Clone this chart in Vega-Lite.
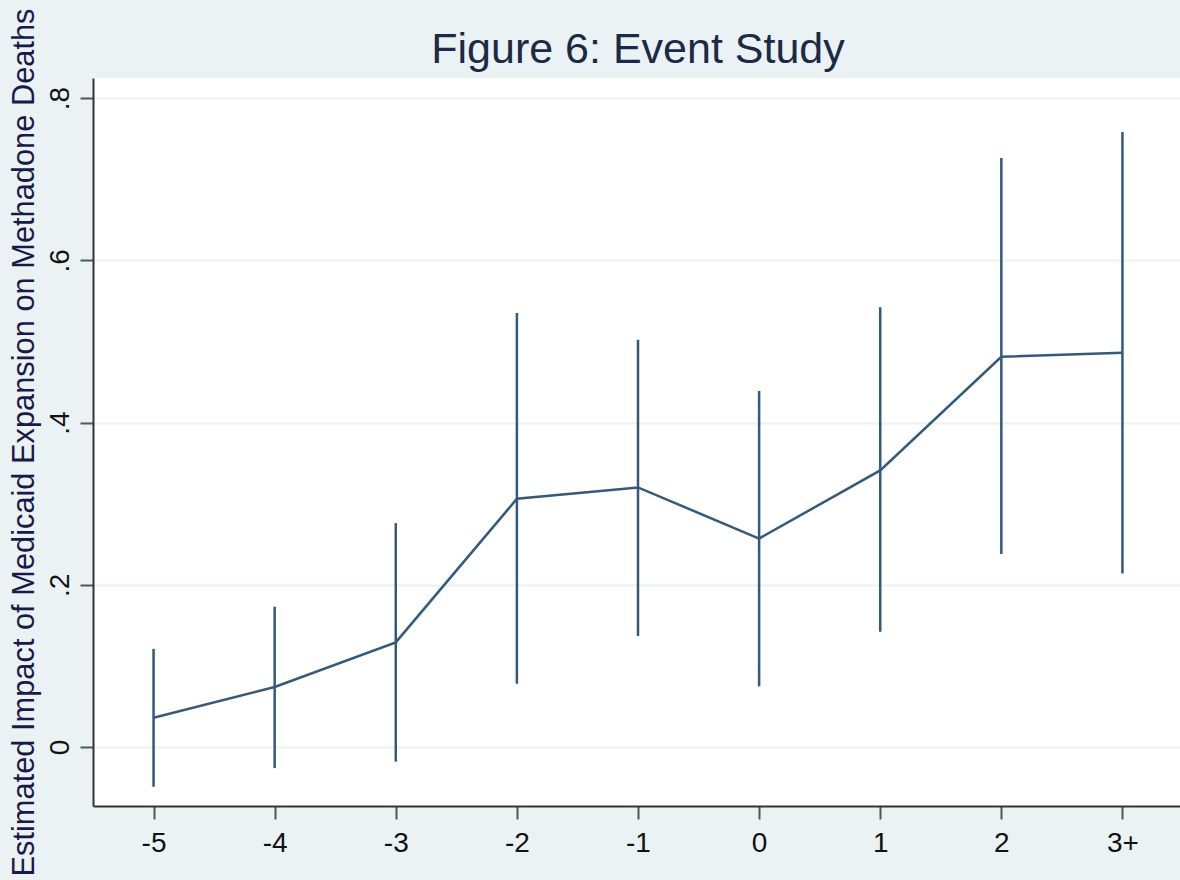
{
  "$schema": "https://vega.github.io/schema/vega-lite/v6.json",
  "width": 1090,
  "height": 728,
  "autosize": "none",
  "padding": {"left": 93, "top": 78, "right": 0, "bottom": 74},
  "background": "#eaf2f3",
  "view": {"fill": "white", "stroke": null},
  "title": {
    "text": "Figure 6: Event Study",
    "font": "Liberation Sans",
    "fontSize": 43,
    "fontWeight": "normal",
    "color": "#1c2a48",
    "frame": "group",
    "anchor": "middle",
    "baseline": "alphabetic",
    "offset": 14,
    "dy": 112
  },
  "data": {
    "values": [
      {"period": "-5", "estimate": 0.036, "lo": -0.049, "hi": 0.121},
      {"period": "-4", "estimate": 0.074, "lo": -0.026, "hi": 0.173},
      {"period": "-3", "estimate": 0.129, "lo": -0.018, "hi": 0.276},
      {"period": "-2", "estimate": 0.306, "lo": 0.078, "hi": 0.535},
      {"period": "-1", "estimate": 0.320, "lo": 0.137, "hi": 0.502},
      {"period": "0", "estimate": 0.257, "lo": 0.075, "hi": 0.439},
      {"period": "1", "estimate": 0.341, "lo": 0.142, "hi": 0.542},
      {"period": "2", "estimate": 0.481, "lo": 0.238, "hi": 0.726},
      {"period": "3+", "estimate": 0.486, "lo": 0.214, "hi": 0.758}
    ]
  },
  "encoding": {
    "x": {
      "field": "period",
      "type": "ordinal",
      "sort": ["-5", "-4", "-3", "-2", "-1", "0", "1", "2", "3+"],
      "scale": {"type": "point", "padding": 0.5},
      "axis": {
        "title": null,
        "labelAngle": 0,
        "labelFont": "Liberation Sans",
        "labelFontSize": 28,
        "labelColor": "#111111",
        "labelPadding": 10,
        "tickSize": 13,
        "tickWidth": 2,
        "tickColor": "#555555",
        "domainColor": "#333333",
        "domainWidth": 2,
        "grid": false
      }
    }
  },
  "layer": [
    {
      "mark": {"type": "rule", "color": "#34597a", "strokeWidth": 2.5},
      "encoding": {
        "y": {
          "field": "lo",
          "type": "quantitative",
          "scale": {"domain": [-0.0727, 0.8247], "nice": false, "zero": false},
          "axis": {
            "title": "Estimated Impact of Medicaid Expansion on Methadone Deaths",
            "titleFont": "Liberation Sans",
            "titleFontSize": 30.8,
            "titleFontWeight": "normal",
            "titleColor": "#1a1a4a",
            "titleAngle": -90,
            "titleAlign": "center",
            "titleBaseline": "alphabetic",
            "titleX": -60,
            "titleY": 364,
            "values": [0, 0.2, 0.4, 0.6, 0.8],
            "labelExpr": "datum.value == 0 ? '0' : replace(format(datum.value, '.1f'), '0.', '.')",
            "labelAngle": -90,
            "labelAlign": "center",
            "labelBaseline": "alphabetic",
            "labelFont": "Liberation Sans",
            "labelFontSize": 28,
            "labelColor": "#111111",
            "labelPadding": 12,
            "tickSize": 13,
            "tickWidth": 2,
            "tickColor": "#555555",
            "domainColor": "#333333",
            "domainWidth": 2,
            "grid": true,
            "gridColor": "#eaf2f3",
            "gridWidth": 2
          }
        },
        "y2": {"field": "hi"}
      }
    },
    {
      "mark": {"type": "line", "color": "#34597a", "strokeWidth": 2.5},
      "encoding": {
        "y": {"field": "estimate", "type": "quantitative"}
      }
    }
  ]
}
